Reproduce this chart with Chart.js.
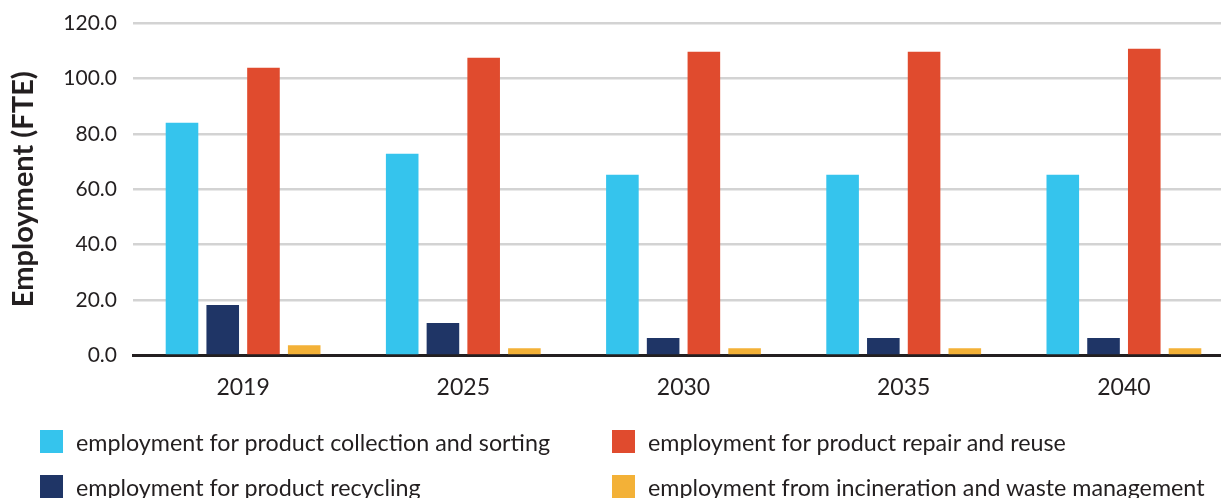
<!DOCTYPE html>
<html>
<head>
<meta charset="utf-8">
<script src="https://cdn.jsdelivr.net/npm/chart.js@4.4.1/dist/chart.umd.min.js"></script>
<style>
    html, body { margin: 0; padding: 0; background: #fff; overflow: hidden; }
    #wrap { position: relative; width: 1221px; height: 498px; overflow: hidden; }
    #chart { position: absolute; left: 0; top: 0; }
    #legend {
        position: absolute; left: 40px; top: 430px;
        display: grid; grid-auto-flow: column;
        grid-template-rows: 23px 23px; row-gap: 22px;
        grid-template-columns: 572px auto;
        font-family: Lato, sans-serif; font-size: 23.3px; color: #231f20;
    }
    .item { display: flex; align-items: center; height: 23px; white-space: nowrap; }
    .swatch { width: 23px; height: 23px; margin-right: 13px; flex: none; }
</style>
</head>
<body>
<div id="wrap">
    <canvas id="chart" width="1234" height="498"></canvas>
    <div id="legend"></div>
</div>
<script>
const years = ['2019', '2025', '2030', '2035', '2040'];

const collectionSorting = [84.0, 72.8, 65.2, 65.2, 65.2];
const recycling         = [18.2, 11.7, 6.3, 6.3, 6.3];
const repairReuse       = [103.8, 107.5, 109.6, 109.6, 110.7];
const incineration      = [3.7, 2.6, 2.6, 2.6, 2.6];

const yTicks = [0, 20, 40, 60, 80, 100, 120];

const seriesNames = [
    'employment for product collection and sorting',
    'employment for product recycling',
    'employment for product repair and reuse',
    'employment from incineration and waste management'
];
const seriesColors = ['#35c4ed', '#1f3566', '#e04b2e', '#f3b137'];

const textColor = '#231f20';

function buildChart() {
    const ctx = document.getElementById('chart').getContext('2d');
    const values = [collectionSorting, recycling, repairReuse, incineration];

    const chart = new Chart(ctx, {
        type: 'bar',
        data: {
            labels: years,
            datasets: values.map((v, i) => ({
                label: seriesNames[i],
                data: v,
                backgroundColor: seriesColors[i],
                borderWidth: 0,
                categoryPercentage: 0.74,
                barPercentage: 0.8
            }))
        },
        options: {
            responsive: false,
            animation: false,
            layout: { padding: { top: 23, left: 0, right: 0, bottom: 79 } },
            plugins: {
                legend: { display: false },
                tooltip: { enabled: false }
            },
            scales: {
                x: {
                    grid: { display: false, drawTicks: false },
                    border: { display: true, color: textColor, width: 3 },
                    ticks: {
                        color: textColor,
                        padding: 18,
                        font: { family: 'Lato', size: 23 }
                    }
                },
                y: {
                    min: 0,
                    max: 120,
                    afterBuildTicks: scale => {
                        scale.ticks = yTicks.map(v => ({ value: v }));
                    },
                    afterFit: scale => {
                        // fixed axis width; let the top label hang over the plot edge
                        scale.width = 133;
                        scale.paddingTop = 0;
                        scale.paddingBottom = 0;
                    },
                    grid: { color: '#d3d3d3', lineWidth: 2.5, drawTicks: false },
                    border: { display: false },
                    ticks: {
                        color: textColor,
                        padding: 16,
                        font: { family: 'Lato', size: 21 },
                        callback: v => v.toFixed(1)
                    },
                    title: {
                        display: true,
                        text: 'Employment (FTE)',
                        color: textColor,
                        padding: { top: 6, bottom: 0 },
                        font: { family: 'Lato', size: 29, weight: 'bold' }
                    }
                }
            }
        }
    });

    updateLegend(chart);
}

function updateLegend(chart) {
    const legend = document.getElementById('legend');
    legend.innerHTML = '';
    chart.data.datasets.forEach(ds => {
        const item = document.createElement('div');
        item.className = 'item';
        const swatch = document.createElement('span');
        swatch.className = 'swatch';
        swatch.style.background = ds.backgroundColor;
        const label = document.createElement('span');
        label.textContent = ds.label;
        item.appendChild(swatch);
        item.appendChild(label);
        legend.appendChild(item);
    });
}

buildChart();
</script>
</body>
</html>
